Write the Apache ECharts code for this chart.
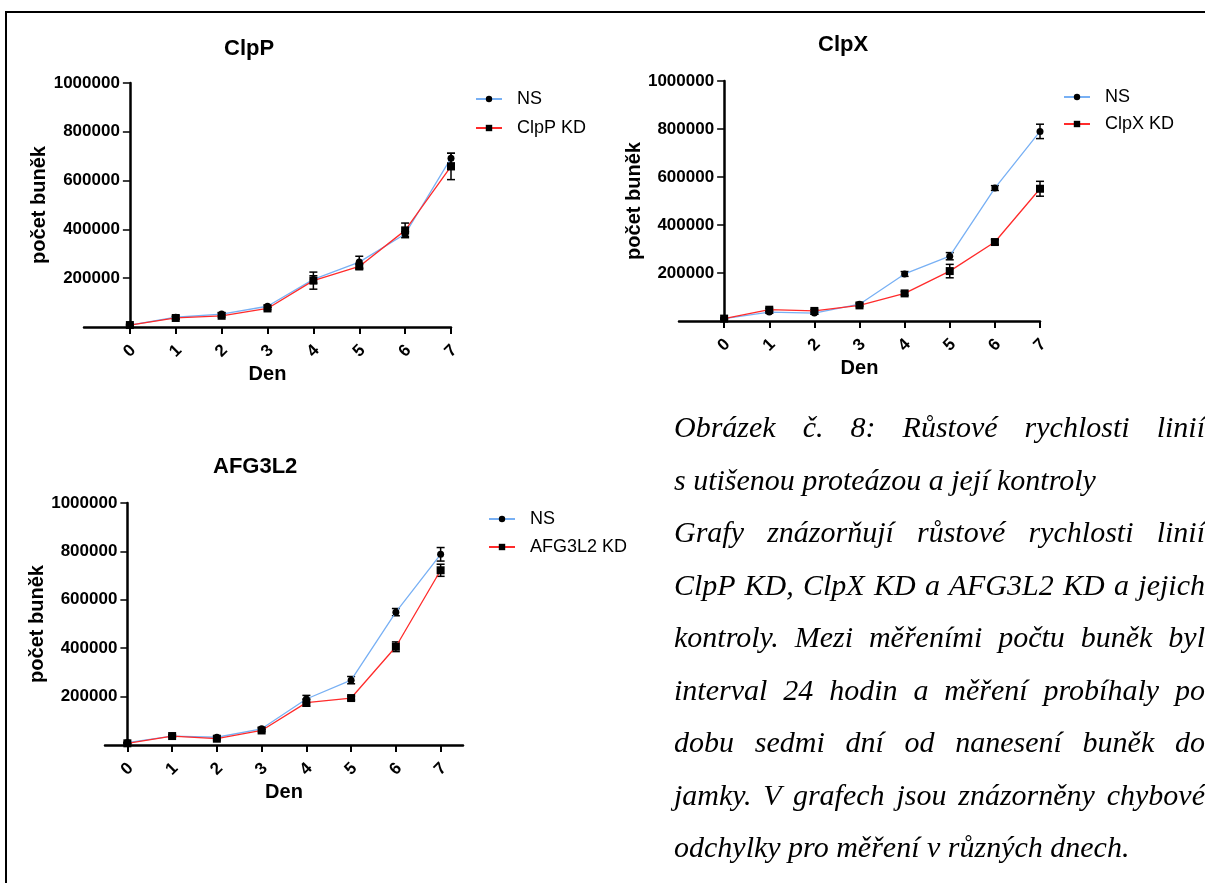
<!DOCTYPE html>
<html>
<head>
<meta charset="utf-8">
<script src="https://cdn.jsdelivr.net/npm/echarts@6/dist/echarts.min.js"></script>
<style>
  html, body { margin:0; padding:0; width:1205px; height:883px; overflow:hidden; background:#fff; }
  #chart { position:absolute; left:0; top:0; width:1205px; height:883px; }
  #caption { position:absolute; left:674px; top:401px; width:531px; font-family:"Liberation Serif","Times New Roman",serif; font-style:italic; font-size:30px; color:#000; }
  #caption div { line-height:52.5px; height:52.5px; white-space:nowrap; }
  #caption div.j { text-align:justify; text-align-last:justify; white-space:normal; }
</style>
</head>
<body>
<div id="chart"></div>
<div id="caption"></div>
<script>
// ---- data ----
const days = [0, 1, 2, 3, 4, 5, 6, 7];
const yTicks = [200000, 400000, 600000, 800000, 1000000];

const clppNS     = [8000, 40000, 53000, 85000, 195000, 266000, 381000, 692000];
const clppNSErr  = [3000, 5000, 5000, 5000, 15000, 24000, 10000, 20000];
const clppKD     = [8000, 37000, 46000, 76000, 190000, 248000, 396000, 658000];
const clppKDErr  = [3000, 5000, 5000, 5000, 35000, 10000, 30000, 54000];

const clpxNS     = [10000, 37000, 33000, 70000, 196000, 270000, 554000, 790000];
const clpxNSErr  = [2000, 5000, 5000, 5000, 10000, 15000, 10000, 30000];
const clpxKD     = [10000, 47000, 42000, 65000, 115000, 208000, 329000, 551000];
const clpxKDErr  = [2000, 6000, 6000, 5000, 8000, 28000, 10000, 31000];

const afgNS      = [10000, 37000, 32000, 67000, 190000, 268000, 549000, 788000];
const afgNSErr   = [2000, 4000, 4000, 5000, 15000, 15000, 15000, 28000];
const afgKD      = [7000, 37000, 26000, 60000, 175000, 194000, 406000, 722000];
const afgKDErr   = [2000, 4000, 5000, 5000, 15000, 8000, 20000, 25000];

const titles = ['ClpP', 'ClpX', 'AFG3L2'];
const kdNames = ['ClpP KD', 'ClpX KD', 'AFG3L2 KD'];
const xName = 'Den';
const yName = 'počet buněk';

const captionLines = [
  ['Obrázek č. 8: Růstové rychlosti linií', true],
  ['s utišenou proteázou a její kontroly', false],
  ['Grafy znázorňují růstové rychlosti linií', true],
  ['ClpP KD, ClpX KD a AFG3L2 KD a jejich', true],
  ['kontroly. Mezi měřeními počtu buněk byl', true],
  ['interval 24 hodin a měření probíhaly po', true],
  ['dobu sedmi dní od nanesení buněk do', true],
  ['jamky. V grafech jsou znázorněny chybové', true],
  ['odchylky pro měření v různých dnech.', false]
];

// ---- caption ----
const cap = document.getElementById('caption');
captionLines.forEach(function (l) {
  const d = document.createElement('div');
  if (l[1]) d.className = 'j';
  d.textContent = l[0];
  cap.appendChild(d);
});

// ---- chart ----
const SANS = '"Liberation Sans", Arial, sans-serif';
const NS_COLOR = '#78b0f4';
const KD_COLOR = '#ff2b2b';
const W = 1205, H = 883;

const panels = [
  { ns: clppNS, nsErr: clppNSErr, kd: clppKD, kdErr: clppKDErr,
    grid: { left: 84, right: 754, top: 83, bottom: 556 }, xmin: -1, xmax: 7,
    titleLeft: 224, titleTop: 38, legendLeft: 475, legendTop: 90, legendGap: 11, yGap: 76 },
  { ns: clpxNS, nsErr: clpxNSErr, kd: clpxKD, kdErr: clpxKDErr,
    grid: { left: 679, right: 165, top: 81, bottom: 562 }, xmin: -1, xmax: 7,
    titleLeft: 818, titleTop: 34, legendLeft: 1063, legendTop: 88, legendGap: 9, yGap: 74 },
  { ns: afgNS, nsErr: afgNSErr, kd: afgKD, kdErr: afgKDErr,
    grid: { left: 105, right: 742, top: 503, bottom: 138 }, xmin: -0.5, xmax: 7.5,
    titleLeft: 213, titleTop: 456, legendLeft: 488, legendTop: 510, legendGap: 10, yGap: 73 }
];

function pairs(vals) { return days.map(function (d, i) { return [d, vals[i]]; }); }
function errData(vals, errs) { return days.map(function (d, i) { return [d, vals[i] - errs[i], vals[i] + errs[i]]; }); }

function errRender(params, api) {
  const x = api.value(0);
  const lo = api.coord([x, api.value(1)]);
  const hi = api.coord([x, api.value(2)]);
  const w = 4;
  const st = { stroke: '#000', lineWidth: 1.5 };
  return {
    type: 'group',
    children: [
      { type: 'line', shape: { x1: lo[0], y1: lo[1], x2: hi[0], y2: hi[1] }, style: st },
      { type: 'line', shape: { x1: lo[0] - w, y1: lo[1], x2: lo[0] + w, y2: lo[1] }, style: st },
      { type: 'line', shape: { x1: hi[0] - w, y1: hi[1], x2: hi[0] + w, y2: hi[1] }, style: st }
    ]
  };
}

const option = {
  animation: false,
  backgroundColor: '#fff',
  title: [], grid: [], xAxis: [], yAxis: [], legend: [], series: [],
  graphic: [
    { type: 'line', shape: { x1: 5, y1: 12, x2: 1205, y2: 12 }, style: { stroke: '#000', lineWidth: 2 } },
    { type: 'line', shape: { x1: 6, y1: 11, x2: 6, y2: 883 }, style: { stroke: '#000', lineWidth: 2 } }
  ]
};

panels.forEach(function (p, i) {
  const gw = W - p.grid.left - p.grid.right;
  const yOffset = -gw * (0 - p.xmin) / (p.xmax - p.xmin); // y axis sits at x = 0
  option.title.push({
    text: titles[i], left: p.titleLeft, top: p.titleTop, padding: 0,
    textStyle: { fontFamily: SANS, fontSize: 22, fontWeight: 'bold', color: '#000' }
  });
  option.grid.push(Object.assign({ containLabel: false, outerBoundsMode: 'none' }, p.grid));
  option.xAxis.push({
    type: 'value', gridIndex: i, min: p.xmin, max: p.xmax, interval: 1,
    name: xName, nameLocation: 'middle', nameGap: 37,
    nameTextStyle: { fontFamily: SANS, fontSize: 20, fontWeight: 'bold', color: '#000' },
    axisLine: { show: true, onZero: false, lineStyle: { color: '#000', width: 2.5 } },
    axisTick: { show: true, length: 7, customValues: days, lineStyle: { color: '#000', width: 2 } },
    axisLabel: {
      customValues: days, rotate: 45, margin: 24, align: 'center', verticalAlign: 'middle',
      fontFamily: SANS, fontSize: 17, fontWeight: 'bold', color: '#000'
    },
    splitLine: { show: false }
  });
  option.yAxis.push({
    type: 'value', gridIndex: i, min: 0, max: 1000000, interval: 200000,
    offset: yOffset,
    name: yName, nameLocation: 'middle', nameGap: p.yGap, nameRotate: 90,
    nameTextStyle: { fontFamily: SANS, fontSize: 20, fontWeight: 'bold', color: '#000' },
    axisLine: { show: true, onZero: false, lineStyle: { color: '#000', width: 2.5 } },
    axisTick: { show: true, length: 7, customValues: yTicks, lineStyle: { color: '#000', width: 1.5 } },
    axisLabel: {
      customValues: yTicks, margin: 10,
      formatter: function (v) { return String(v); },
      fontFamily: SANS, fontSize: 17, fontWeight: 'bold', color: '#000'
    },
    splitLine: { show: false }
  });
  option.legend.push({
    data: ['NS', kdNames[i]], orient: 'vertical', left: p.legendLeft, top: p.legendTop,
    itemWidth: 26, itemHeight: 8, itemGap: p.legendGap, padding: 0, selectedMode: false,
    textStyle: { fontFamily: SANS, fontSize: 18, color: '#000', padding: [0, 0, 0, 10] }
  });
  option.series.push(
    { type: 'custom', xAxisIndex: i, yAxisIndex: i, renderItem: errRender, data: errData(p.ns, p.nsErr), z: 2, silent: true },
    { type: 'custom', xAxisIndex: i, yAxisIndex: i, renderItem: errRender, data: errData(p.kd, p.kdErr), z: 2, silent: true },
    { type: 'line', name: 'NS', xAxisIndex: i, yAxisIndex: i, data: pairs(p.ns), z: 3,
      symbol: 'circle', symbolSize: 7, itemStyle: { color: '#000' },
      lineStyle: { color: NS_COLOR, width: 1.3 } },
    { type: 'line', name: kdNames[i], xAxisIndex: i, yAxisIndex: i, data: pairs(p.kd), z: 4,
      symbol: 'rect', symbolSize: 8, itemStyle: { color: '#000' },
      lineStyle: { color: KD_COLOR, width: 1.3 } }
  );
});

const chart = echarts.init(document.getElementById('chart'), null, { renderer: 'canvas' });
chart.setOption(option);
</script>
</body>
</html>
